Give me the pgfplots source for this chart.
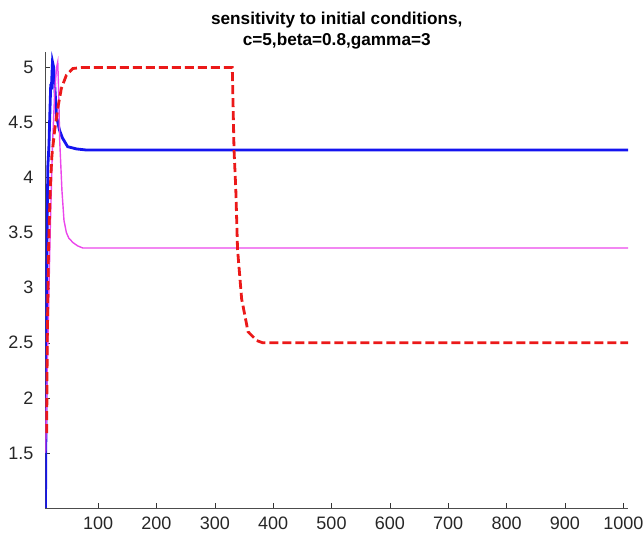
\documentclass[border=0pt]{standalone}
\usepackage{fontspec}
\setmainfont{Liberation Sans}
\usepackage{pgfplots}
\pgfplotsset{compat=1.18}

\definecolor{cblue}{RGB}{20,20,240}
\definecolor{cmag}{RGB}{235,70,235}
\definecolor{cred}{RGB}{235,25,25}

\begin{document}
\begin{tikzpicture}
% canvas 643 x 539 px at 0.5pt per px
\path[use as bounding box] (0pt,0pt) rectangle (321.5pt,269.5pt);
\begin{axis}[
    at={(22.75pt,15.5pt)}, anchor=south west,
    scale only axis,
    width=291.25pt, height=228pt,
    xmin=10, xmax=1008,
    ymin=1, ymax=5.14,
    xtick={100,200,...,1000},
    ytick={1.5,2,2.5,3,3.5,4,4.5,5},
    yticklabels={1.5,2,2.5,3,3.5,4,4.5,5},
    axis x line*=bottom, axis y line*=left,
    axis line style={black!70, -},
    tick align=inside,
    major tick length=2.5pt,
    tick style={black!80},
    /pgf/number format/1000 sep={},
    /pgf/number format/assume math mode=true,
    ticklabel style={font=\fontsize{9}{10}\selectfont, text=black!85},
    yticklabel style={xshift=-2.5pt},
    xticklabel style={yshift=-1pt},
    title={sensitivity to initial conditions,\\c=5,beta=0.8,gamma=3},
    title style={align=center, font=\bfseries\fontsize{8.6}{10.5}\selectfont,
                 at={(0.5,1)}, anchor=south, yshift=-8pt},
    clip=true,
]
% blue: fast rise, settles at 4.25
\addplot[cblue, line width=1.4pt] coordinates {
(10,1.0) (11,2.0) (12,3.0) (13,3.6) (14,4.1) (16,4.3) (17,4.5) (19,4.85) (20,4.8)
(22,5.05) (24,5.0) (26,4.82) (29,4.55) (34,4.43) (39,4.36) (48,4.28) (63,4.26)
(80,4.25) (1008,4.25)};
% magenta: settles at 3.36
\addplot[cmag, line width=0.7pt] coordinates {
(10,1.5) (14,2.5) (18,3.5) (22,4.3) (26,4.8) (29,5.0) (31,5.05) (32.5,4.8)
(34.3,4.34) (38.2,3.88) (41.7,3.61) (45.8,3.5) (50,3.45) (57,3.41) (65,3.38)
(74,3.36) (1008,3.36)};
% red dashed: plateau at 5, drop near 330, settles at 2.5
\addplot[cred, line width=1.4pt, dash pattern=on 4.5pt off 2pt] coordinates {
(12,1.68) (13,2.5) (15,3.3) (17,3.7) (19,4.0) (21,4.2) (25.7,4.43) (31.4,4.64)
(37.2,4.81) (45.8,4.93) (57,4.99) (74,5.0) (330,5.0) (333,4.25) (336,3.9)
(339,3.35) (346,2.9) (357,2.6) (372,2.52) (382,2.5) (1008,2.5)};
\end{axis}
\end{tikzpicture}
\end{document}
